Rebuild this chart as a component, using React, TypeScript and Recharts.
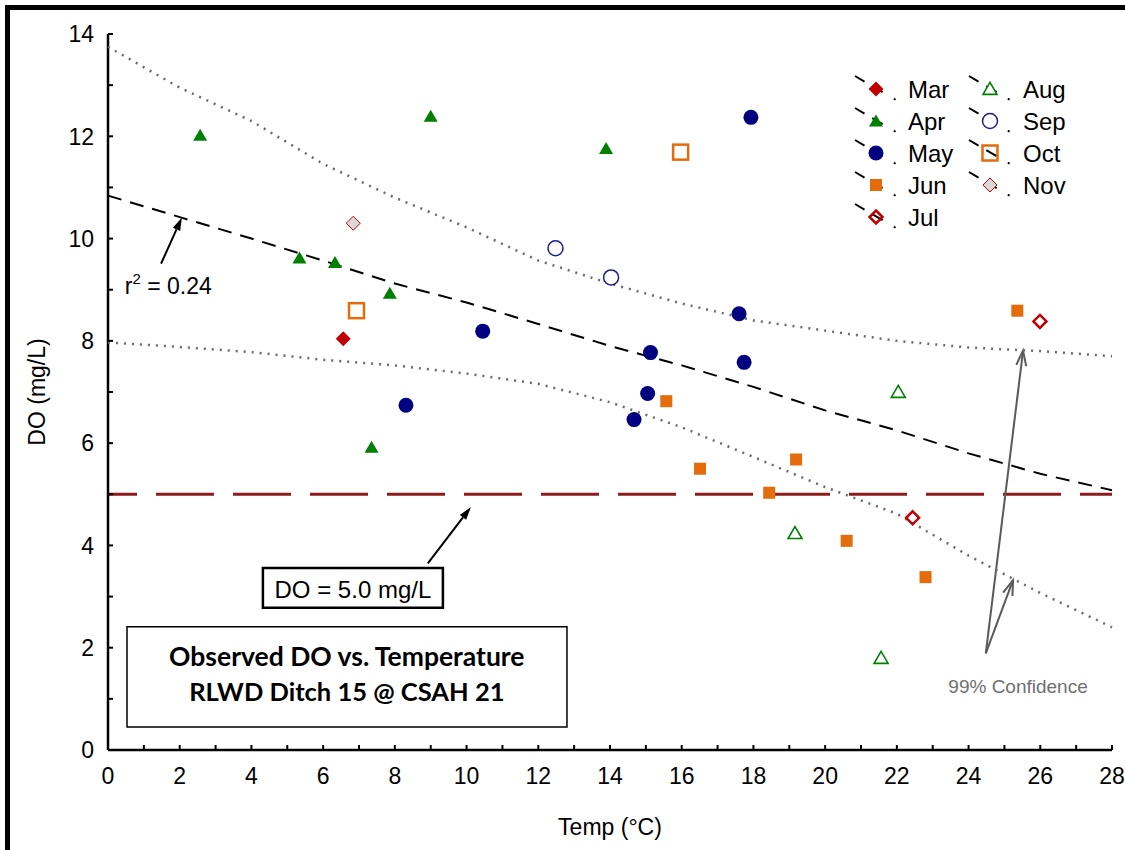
import React from "react";
import {
  ScatterChart,
  Scatter,
  XAxis,
  YAxis,
  CartesianGrid,
  ReferenceLine,
  ReferenceArea,
  ReferenceDot,
  Legend,
} from "recharts";

// ---- axis ticks ----
const xTicks = [0, 1, 2, 3, 4, 5, 6, 7, 8, 9, 10, 11, 12, 13, 14, 15, 16, 17, 18, 19, 20, 21, 22, 23, 24, 25, 26, 27, 28];
const xLabelTicks = [0, 2, 4, 6, 8, 10, 12, 14, 16, 18, 20, 22, 24, 26, 28];
const yTicks = [0, 1, 2, 3, 4, 5, 6, 7, 8, 9, 10, 11, 12, 13, 14];
const yLabelTicks = [0, 2, 4, 6, 8, 10, 12, 14];

// ---- observations (temp °C, DO mg/L) by month ----
const marTemp = [6.56];
const marDO = [8.04];
const aprTemp = [2.57, 9.0, 13.89, 5.34, 6.33, 7.86, 7.35];
const aprDO = [12.02, 12.39, 11.76, 9.62, 9.53, 8.93, 5.92];
const mayTemp = [17.93, 10.45, 17.6, 15.13, 17.74, 15.05, 14.67, 8.31];
const mayDO = [12.37, 8.19, 8.53, 7.77, 7.58, 6.97, 6.46, 6.74];
const junTemp = [15.57, 16.51, 19.19, 18.44, 20.6, 22.8, 25.36];
const junDO = [6.82, 5.5, 5.68, 5.03, 4.09, 3.38, 8.59];
const julTemp = [25.99, 22.44];
const julDO = [8.38, 4.54];
const augTemp = [22.04, 19.16, 21.56];
const augDO = [7.0, 4.24, 1.8];
const sepTemp = [12.48, 14.03];
const sepDO = [9.81, 9.24];
const octTemp = [15.97, 6.93];
const octDO = [11.69, 8.59];
const novTemp = [6.84];
const novDO = [10.3];

// ---- regression line and 99% confidence band ----
const fitTemp = [0, 2, 4, 6, 8, 10, 12, 14, 16, 18, 20, 22, 24, 26, 28];
const fitDO = [10.84, 10.42, 10.0, 9.57, 9.12, 8.75, 8.33, 7.9, 7.52, 7.1, 6.64, 6.25, 5.8, 5.4, 5.08];
const upperDO = [13.75, 12.95, 12.3, 11.46, 10.8, 10.22, 9.57, 9.12, 8.73, 8.4, 8.2, 8.0, 7.87, 7.8, 7.7];
const lowerDO = [7.97, 7.88, 7.78, 7.63, 7.52, 7.36, 7.16, 6.8, 6.31, 5.73, 5.14, 4.62, 3.8, 3.07, 2.4];

const doStandard = 5.0;

const FONT = '"Liberation Sans", Arial, Helvetica, sans-serif';
const TITLE_FONT = "Lato, sans-serif";

const zip = (xs: number[], ys: number[]) => xs.map((x, i) => ({ temp: x, dO: ys[i] }));

type Kind =
  | "diamondFilled"
  | "triangle"
  | "circle"
  | "square"
  | "diamondOpen"
  | "triangleOpen"
  | "circleOpen"
  | "squareOpen"
  | "diamondGray";

const months: { name: string; kind: Kind; data: { temp: number; dO: number }[] }[] = [
  { name: "Mar", kind: "diamondFilled", data: zip(marTemp, marDO) },
  { name: "Apr", kind: "triangle", data: zip(aprTemp, aprDO) },
  { name: "May", kind: "circle", data: zip(mayTemp, mayDO) },
  { name: "Jun", kind: "square", data: zip(junTemp, junDO) },
  { name: "Jul", kind: "diamondOpen", data: zip(julTemp, julDO) },
  { name: "Aug", kind: "triangleOpen", data: zip(augTemp, augDO) },
  { name: "Sep", kind: "circleOpen", data: zip(sepTemp, sepDO) },
  { name: "Oct", kind: "squareOpen", data: zip(octTemp, octDO) },
  { name: "Nov", kind: "diamondGray", data: zip(novTemp, novDO) },
];

function Marker({ kind, cx, cy }: { kind: Kind; cx: number; cy: number }) {
  const diamond = (r: number) => `${cx},${cy - r} ${cx + r},${cy} ${cx},${cy + r} ${cx - r},${cy}`;
  const tri = (w: number, h: number) =>
    `${cx},${cy - h * 0.55} ${cx + w / 2},${cy + h * 0.45} ${cx - w / 2},${cy + h * 0.45}`;
  switch (kind) {
    case "diamondFilled":
      return <polygon points={diamond(7.5)} fill="#c00000" />;
    case "triangle":
      return <polygon points={tri(14, 12)} fill="#008000" />;
    case "circle":
      return <circle cx={cx} cy={cy} r={7.5} fill="#000080" />;
    case "square":
      return <rect x={cx - 6} y={cy - 6} width={12} height={12} fill="#e46c0a" />;
    case "diamondOpen":
      return <polygon points={diamond(6.5)} fill="none" stroke="#c00000" strokeWidth={2.5} />;
    case "triangleOpen":
      return <polygon points={tri(14, 12)} fill="white" stroke="#008000" strokeWidth={1.6} />;
    case "circleOpen":
      return <circle cx={cx} cy={cy} r={7.5} fill="white" stroke="#1c1c8c" strokeWidth={1.5} />;
    case "squareOpen":
      return <rect x={cx - 7.5} y={cy - 7.5} width={15} height={15} fill="none" stroke="#e46c0a" strokeWidth={2.5} />;
    case "diamondGray":
      return <polygon points={diamond(7)} fill="#d9d9d9" stroke="#cc0000" strokeWidth={1} />;
  }
  return null;
}

// ---- ticks drawn inward, labels only on even values ----
const BottomTick = ({ x, y, payload }: any) => (
  <g>
    <line x1={x} y1={y} x2={x} y2={y - 5} stroke="#000" strokeWidth={2} />
    {xLabelTicks.includes(payload.value) && (
      <text x={x} y={y + 34} textAnchor="middle" fontSize={23} fontFamily={FONT} fill="#000">
        {payload.value}
      </text>
    )}
  </g>
);
const TopTick = ({ x, y }: any) => <line x1={x} y1={y} x2={x} y2={y + 5} stroke="#000" strokeWidth={2} />;
const LeftTick = ({ x, y, payload }: any) => (
  <g>
    <line x1={x} y1={y} x2={x + 5} y2={y} stroke="#000" strokeWidth={2} />
    {yLabelTicks.includes(payload.value) && (
      <text x={x - 14} y={y} dy="0.36em" textAnchor="end" fontSize={23} fontFamily={FONT} fill="#000">
        {payload.value}
      </text>
    )}
  </g>
);
const RightTick = ({ x, y }: any) => <line x1={x} y1={y} x2={x - 5} y2={y} stroke="#000" strokeWidth={2} />;

// ---- annotation arrows ----
function arrowShape(color: string, open: boolean) {
  return (props: any) => {
    const { x1, y1, x2, y2 } = props;
    const a = Math.atan2(y2 - y1, x2 - x1);
    const L = open ? 15 : 13;
    const w = open ? 5 : 4;
    const bx = x2 - L * Math.cos(a);
    const by = y2 - L * Math.sin(a);
    const px = -Math.sin(a) * w;
    const py = Math.cos(a) * w;
    return (
      <g>
        <line x1={x1} y1={y1} x2={open ? x2 : bx} y2={open ? y2 : by} stroke={color} strokeWidth={2} />
        {open ? (
          <polyline
            points={`${bx + px},${by + py} ${x2},${y2} ${bx - px},${by - py}`}
            fill="none"
            stroke={color}
            strokeWidth={2}
          />
        ) : (
          <polygon points={`${bx + px},${by + py} ${x2},${y2} ${bx - px},${by - py}`} fill={color} />
        )}
      </g>
    );
  };
}

// ---- legend ----
const legendCols = [
  ["Mar", "Apr", "May", "Jun", "Jul"],
  ["Aug", "Sep", "Oct", "Nov"],
];
function MonthLegend() {
  const colMarker = [26, 140];
  const colText = [58, 173];
  return (
    <svg width={237} height={165} style={{ display: "block", background: "white" }}>
      {legendCols.map((col, ci) =>
        col.map((name, ri) => {
          const m = months.find((mm) => mm.name === name)!;
          const cx = colMarker[ci];
          const cy = 22 + ri * 32;
          return (
            <g key={name}>
              <line
                x1={cx - 21}
                y1={cy - 13}
                x2={cx + 20}
                y2={cy + 11}
                stroke="#000"
                strokeWidth={2}
                strokeDasharray="11 9 12 13 2 20"
              />
              <Marker kind={m.kind} cx={cx} cy={cy} />
              <text x={colText[ci]} y={cy + 8.5} fontSize={24} fontFamily={FONT} fill="#000">
                {name}
              </text>
            </g>
          );
        })
      )}
    </svg>
  );
}

const textShape = (content: React.ReactNode, opts: any = {}) => (p: any) => (
  <text x={p.cx} y={p.cy} fontFamily={FONT} fill="#000" {...opts}>
    {content}
  </text>
);

export default function App() {
  return (
    <div style={{ position: "absolute", left: 0, top: 0, width: 1125, height: 850, background: "white" }}>
      <div
        style={{
          position: "absolute",
          left: 5,
          top: 5,
          right: 0,
          bottom: 0,
          borderTop: "5px solid #000",
          borderLeft: "5px solid #000",
        }}
      />
      <ScatterChart width={1125} height={850} margin={{ top: 34, right: 13, bottom: 10, left: 20 }}>
        <CartesianGrid
          stroke="#dcdcdc"
          strokeWidth={1.5}
          verticalValues={xLabelTicks}
          horizontalValues={yLabelTicks}
        />
        <XAxis
          xAxisId="main"
          type="number"
          dataKey="temp"
          domain={[0, 28]}
          ticks={xTicks}
          interval={0}
          height={90}
          tickSize={0}
          tickMargin={0}
          tickLine={false}
          axisLine={{ stroke: "#000", strokeWidth: 2.5 }}
          tick={<BottomTick />}
          label={(p: any) => (
            <text
              x={p.viewBox.x + p.viewBox.width / 2}
              y={p.viewBox.y + 85}
              textAnchor="middle"
              fontSize={23}
              fontFamily={FONT}
              fill="#000"
            >
              Temp (°C)
            </text>
          )}
        />
        <XAxis
          xAxisId="top"
          orientation="top"
          type="number"
          domain={[0, 28]}
          ticks={xTicks}
          interval={0}
          height={0}
          tickSize={0}
          tickMargin={0}
          tickLine={false}
          axisLine={{ stroke: "#000", strokeWidth: 2.5 }}
          tick={<TopTick />}
        />
        <YAxis
          yAxisId="main"
          type="number"
          dataKey="dO"
          domain={[0, 14]}
          ticks={yTicks}
          interval={0}
          width={88}
          tickSize={0}
          tickMargin={0}
          tickLine={false}
          axisLine={{ stroke: "#000", strokeWidth: 2.5 }}
          tick={<LeftTick />}
          label={(p: any) => {
            const cx = p.viewBox.x + 17;
            const cy = p.viewBox.y + p.viewBox.height / 2;
            return (
              <text
                x={cx}
                y={cy}
                dy="0.35em"
                transform={`rotate(-90 ${cx} ${cy})`}
                textAnchor="middle"
                fontSize={23}
                fontFamily={FONT}
                fill="#000"
              >
                DO (mg/L)
              </text>
            );
          }}
        />
        <YAxis
          yAxisId="right"
          orientation="right"
          type="number"
          domain={[0, 14]}
          ticks={yTicks}
          interval={0}
          width={0}
          tickSize={0}
          tickMargin={0}
          tickLine={false}
          axisLine={{ stroke: "#000", strokeWidth: 2.5 }}
          tick={<RightTick />}
        />

        {/* title box */}
        <ReferenceArea
          xAxisId="main"
          yAxisId="main"
          x1={0.53}
          x2={12.8}
          y1={0.45}
          y2={2.41}
          fill="#fff"
          fillOpacity={1}
          stroke="#000"
          strokeWidth={1.5}
        />
        <ReferenceDot
          xAxisId="main"
          yAxisId="main"
          x={6.66}
          y={1.64}
          r={0}
          shape={textShape("Observed DO vs. Temperature", {
            textAnchor: "middle",
            fontSize: 26.5,
            fontWeight: "bold",
            fontFamily: TITLE_FONT,
          })}
        />
        <ReferenceDot
          xAxisId="main"
          yAxisId="main"
          x={6.66}
          y={0.96}
          r={0}
          shape={textShape("RLWD Ditch 15 @ CSAH 21", {
            textAnchor: "middle",
            fontSize: 25.5,
            fontWeight: "bold",
            fontFamily: TITLE_FONT,
          })}
        />

        {/* DO standard */}
        <ReferenceLine
          xAxisId="main"
          yAxisId="main"
          y={doStandard}
          stroke="#8e1b1b"
          strokeWidth={3}
          strokeDasharray="58 19"
          strokeDashoffset={29}
        />
        <ReferenceArea
          xAxisId="main"
          yAxisId="main"
          x1={4.32}
          x2={9.34}
          y1={2.78}
          y2={3.56}
          fill="#fff"
          fillOpacity={1}
          stroke="#000"
          strokeWidth={2.5}
        />
        <ReferenceDot
          xAxisId="main"
          yAxisId="main"
          x={6.83}
          y={2.98}
          r={0}
          shape={textShape("DO = 5.0 mg/L", { textAnchor: "middle", fontSize: 24 })}
        />
        <ReferenceLine
          xAxisId="main"
          yAxisId="main"
          segment={[{ x: 8.92, y: 3.65 }, { x: 10.12, y: 4.75 }]}
          shape={arrowShape("#000", false)}
        />

        {/* r² label */}
        <ReferenceDot
          xAxisId="main"
          yAxisId="main"
          x={0.47}
          y={8.92}
          r={0}
          shape={textShape(
            <>
              r<tspan dy={-10} fontSize={15}>2</tspan>
              <tspan dy={10}> = 0.24</tspan>
            </>,
            { fontSize: 23 }
          )}
        />
        <ReferenceLine
          xAxisId="main"
          yAxisId="main"
          segment={[{ x: 1.48, y: 9.51 }, { x: 2.06, y: 10.41 }]}
          shape={arrowShape("#000", false)}
        />

        {/* 99% confidence label */}
        <ReferenceDot
          xAxisId="main"
          yAxisId="main"
          x={25.38}
          y={1.12}
          r={0}
          shape={textShape("99% Confidence", { textAnchor: "middle", fontSize: 19, fill: "#707070" })}
        />
        <ReferenceLine
          xAxisId="main"
          yAxisId="main"
          segment={[{ x: 24.48, y: 1.89 }, { x: 25.52, y: 7.81 }]}
          shape={arrowShape("#5a5a5a", true)}
        />
        <ReferenceLine
          xAxisId="main"
          yAxisId="main"
          segment={[{ x: 24.48, y: 1.89 }, { x: 25.24, y: 3.32 }]}
          shape={arrowShape("#5a5a5a", true)}
        />

        {/* fit and confidence lines */}
        <Scatter
          xAxisId="main"
          yAxisId="main"
          name="upper"
          data={zip(fitTemp, upperDO)}
          line={{ stroke: "#6a6a6a", strokeWidth: 2.5, strokeDasharray: "2 6" }}
          lineType="joint"
          shape={() => <g />}
          legendType="none"
          isAnimationActive={false}
        />
        <Scatter
          xAxisId="main"
          yAxisId="main"
          name="lower"
          data={zip(fitTemp, lowerDO)}
          line={{ stroke: "#6a6a6a", strokeWidth: 2.5, strokeDasharray: "2 6" }}
          lineType="joint"
          shape={() => <g />}
          legendType="none"
          isAnimationActive={false}
        />
        <Scatter
          xAxisId="main"
          yAxisId="main"
          name="fit"
          data={zip(fitTemp, fitDO)}
          line={{ stroke: "#000", strokeWidth: 2, strokeDasharray: "14 9" }}
          lineType="joint"
          shape={() => <g />}
          legendType="none"
          isAnimationActive={false}
        />

        {months.map((m) => (
          <Scatter
            key={m.name}
            xAxisId="main"
            yAxisId="main"
            name={m.name}
            data={m.data}
            shape={(p: any) => <Marker kind={m.kind} cx={p.cx} cy={p.cy} />}
            isAnimationActive={false}
          />
        ))}

        <Legend
          layout="vertical"
          align="center"
          verticalAlign="middle"
          wrapperStyle={{ left: 850, top: 67, width: 237, height: 165 }}
          content={() => <MonthLegend />}
        />
      </ScatterChart>
    </div>
  );
}
